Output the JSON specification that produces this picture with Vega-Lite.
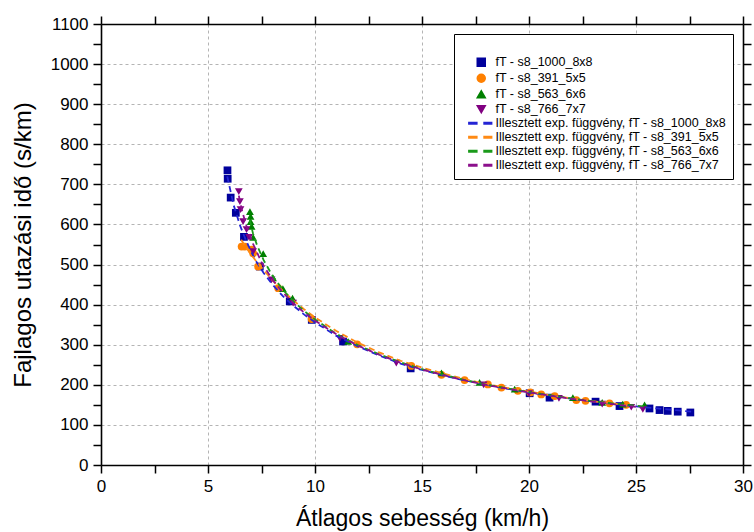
{
  "$schema": "https://vega.github.io/schema/vega-lite/v6.json",
  "autosize": {"type": "none"},
  "padding": {"left": 101, "top": 24, "right": 11, "bottom": 67},
  "width": 642,
  "height": 441,
  "background": "white",
  "config": {
    "view": {"stroke": null},
    "font": "Liberation Sans"
  },
  "datasets": {
    "pts": [
      {"label": "fT - s8_1000_8x8", "x": 5.91, "y": 735},
      {"label": "fT - s8_1000_8x8", "x": 5.92, "y": 714},
      {"label": "fT - s8_1000_8x8", "x": 6.06, "y": 667},
      {"label": "fT - s8_1000_8x8", "x": 6.30, "y": 629},
      {"label": "fT - s8_1000_8x8", "x": 6.68, "y": 569},
      {"label": "fT - s8_1000_8x8", "x": 7.42, "y": 495},
      {"label": "fT - s8_1000_8x8", "x": 8.82, "y": 408},
      {"label": "fT - s8_1000_8x8", "x": 9.85, "y": 362},
      {"label": "fT - s8_1000_8x8", "x": 11.31, "y": 308},
      {"label": "fT - s8_1000_8x8", "x": 14.47, "y": 241},
      {"label": "fT - s8_1000_8x8", "x": 20.03, "y": 179},
      {"label": "fT - s8_1000_8x8", "x": 20.96, "y": 168},
      {"label": "fT - s8_1000_8x8", "x": 23.11, "y": 158},
      {"label": "fT - s8_1000_8x8", "x": 24.23, "y": 147},
      {"label": "fT - s8_1000_8x8", "x": 25.63, "y": 141},
      {"label": "fT - s8_1000_8x8", "x": 26.10, "y": 137},
      {"label": "fT - s8_1000_8x8", "x": 26.48, "y": 135},
      {"label": "fT - s8_1000_8x8", "x": 26.95, "y": 133},
      {"label": "fT - s8_1000_8x8", "x": 27.54, "y": 131},
      {"label": "fT - s8_391_5x5", "x": 6.57, "y": 545},
      {"label": "fT - s8_391_5x5", "x": 6.72, "y": 545},
      {"label": "fT - s8_391_5x5", "x": 7.04, "y": 537},
      {"label": "fT - s8_391_5x5", "x": 7.11, "y": 528},
      {"label": "fT - s8_391_5x5", "x": 7.34, "y": 495},
      {"label": "fT - s8_391_5x5", "x": 8.28, "y": 441},
      {"label": "fT - s8_391_5x5", "x": 9.84, "y": 364},
      {"label": "fT - s8_391_5x5", "x": 11.97, "y": 301},
      {"label": "fT - s8_391_5x5", "x": 14.50, "y": 247},
      {"label": "fT - s8_391_5x5", "x": 15.91, "y": 225},
      {"label": "fT - s8_391_5x5", "x": 16.99, "y": 212},
      {"label": "fT - s8_391_5x5", "x": 18.08, "y": 201},
      {"label": "fT - s8_391_5x5", "x": 18.71, "y": 193},
      {"label": "fT - s8_391_5x5", "x": 19.48, "y": 185},
      {"label": "fT - s8_391_5x5", "x": 20.06, "y": 181},
      {"label": "fT - s8_391_5x5", "x": 20.57, "y": 176},
      {"label": "fT - s8_391_5x5", "x": 21.20, "y": 172},
      {"label": "fT - s8_391_5x5", "x": 22.21, "y": 162},
      {"label": "fT - s8_391_5x5", "x": 22.64, "y": 160},
      {"label": "fT - s8_391_5x5", "x": 23.76, "y": 154},
      {"label": "fT - s8_391_5x5", "x": 24.54, "y": 150},
      {"label": "fT - s8_563_6x6", "x": 6.96, "y": 632},
      {"label": "fT - s8_563_6x6", "x": 6.99, "y": 620},
      {"label": "fT - s8_563_6x6", "x": 6.99, "y": 607},
      {"label": "fT - s8_563_6x6", "x": 7.04, "y": 595},
      {"label": "fT - s8_563_6x6", "x": 7.11, "y": 568},
      {"label": "fT - s8_563_6x6", "x": 7.58, "y": 527},
      {"label": "fT - s8_563_6x6", "x": 8.04, "y": 467},
      {"label": "fT - s8_563_6x6", "x": 8.50, "y": 440},
      {"label": "fT - s8_563_6x6", "x": 8.95, "y": 416},
      {"label": "fT - s8_563_6x6", "x": 11.55, "y": 308},
      {"label": "fT - s8_563_6x6", "x": 15.91, "y": 230},
      {"label": "fT - s8_563_6x6", "x": 17.69, "y": 206},
      {"label": "fT - s8_563_6x6", "x": 19.33, "y": 189},
      {"label": "fT - s8_563_6x6", "x": 22.05, "y": 168},
      {"label": "fT - s8_563_6x6", "x": 23.42, "y": 156},
      {"label": "fT - s8_563_6x6", "x": 24.38, "y": 152},
      {"label": "fT - s8_563_6x6", "x": 25.40, "y": 150},
      {"label": "fT - s8_766_7x7", "x": 6.44, "y": 682},
      {"label": "fT - s8_766_7x7", "x": 6.49, "y": 657},
      {"label": "fT - s8_766_7x7", "x": 6.52, "y": 637},
      {"label": "fT - s8_766_7x7", "x": 6.64, "y": 607},
      {"label": "fT - s8_766_7x7", "x": 6.80, "y": 587},
      {"label": "fT - s8_766_7x7", "x": 6.92, "y": 568},
      {"label": "fT - s8_766_7x7", "x": 7.11, "y": 532},
      {"label": "fT - s8_766_7x7", "x": 7.97, "y": 462},
      {"label": "fT - s8_766_7x7", "x": 8.98, "y": 404},
      {"label": "fT - s8_766_7x7", "x": 11.16, "y": 316},
      {"label": "fT - s8_766_7x7", "x": 13.80, "y": 254},
      {"label": "fT - s8_766_7x7", "x": 17.88, "y": 200},
      {"label": "fT - s8_766_7x7", "x": 20.00, "y": 178},
      {"label": "fT - s8_766_7x7", "x": 21.40, "y": 166},
      {"label": "fT - s8_766_7x7", "x": 23.42, "y": 152},
      {"label": "fT - s8_766_7x7", "x": 24.78, "y": 144},
      {"label": "fT - s8_766_7x7", "x": 25.32, "y": 139}
    ],
    "fits": [
      {"label": "Illesztett exp. függvény, fT - s8_1000_8x8", "x": 5.9, "y": 720},
      {"label": "Illesztett exp. függvény, fT - s8_1000_8x8", "x": 6.2, "y": 648},
      {"label": "Illesztett exp. függvény, fT - s8_1000_8x8", "x": 6.5, "y": 597},
      {"label": "Illesztett exp. függvény, fT - s8_1000_8x8", "x": 6.8, "y": 557},
      {"label": "Illesztett exp. függvény, fT - s8_1000_8x8", "x": 7.2, "y": 512},
      {"label": "Illesztett exp. függvény, fT - s8_1000_8x8", "x": 7.6, "y": 479},
      {"label": "Illesztett exp. függvény, fT - s8_1000_8x8", "x": 8.0, "y": 451},
      {"label": "Illesztett exp. függvény, fT - s8_1000_8x8", "x": 8.5, "y": 421},
      {"label": "Illesztett exp. függvény, fT - s8_1000_8x8", "x": 9.0, "y": 397},
      {"label": "Illesztett exp. függvény, fT - s8_1000_8x8", "x": 9.5, "y": 375},
      {"label": "Illesztett exp. függvény, fT - s8_1000_8x8", "x": 10, "y": 356},
      {"label": "Illesztett exp. függvény, fT - s8_1000_8x8", "x": 11, "y": 322},
      {"label": "Illesztett exp. függvény, fT - s8_1000_8x8", "x": 12, "y": 296},
      {"label": "Illesztett exp. függvény, fT - s8_1000_8x8", "x": 13, "y": 273},
      {"label": "Illesztett exp. függvény, fT - s8_1000_8x8", "x": 14, "y": 253},
      {"label": "Illesztett exp. függvény, fT - s8_1000_8x8", "x": 15, "y": 237},
      {"label": "Illesztett exp. függvény, fT - s8_1000_8x8", "x": 16, "y": 223},
      {"label": "Illesztett exp. függvény, fT - s8_1000_8x8", "x": 17, "y": 211},
      {"label": "Illesztett exp. függvény, fT - s8_1000_8x8", "x": 18, "y": 200},
      {"label": "Illesztett exp. függvény, fT - s8_1000_8x8", "x": 19, "y": 190},
      {"label": "Illesztett exp. függvény, fT - s8_1000_8x8", "x": 20, "y": 181},
      {"label": "Illesztett exp. függvény, fT - s8_1000_8x8", "x": 21, "y": 173},
      {"label": "Illesztett exp. függvény, fT - s8_1000_8x8", "x": 22, "y": 165},
      {"label": "Illesztett exp. függvény, fT - s8_1000_8x8", "x": 23, "y": 158},
      {"label": "Illesztett exp. függvény, fT - s8_1000_8x8", "x": 24, "y": 152},
      {"label": "Illesztett exp. függvény, fT - s8_1000_8x8", "x": 25, "y": 146},
      {"label": "Illesztett exp. függvény, fT - s8_1000_8x8", "x": 26, "y": 141},
      {"label": "Illesztett exp. függvény, fT - s8_1000_8x8", "x": 27, "y": 136},
      {"label": "Illesztett exp. függvény, fT - s8_1000_8x8", "x": 27.6, "y": 133},
      {"label": "Illesztett exp. függvény, fT - s8_391_5x5", "x": 6.55, "y": 562},
      {"label": "Illesztett exp. függvény, fT - s8_391_5x5", "x": 6.8, "y": 541},
      {"label": "Illesztett exp. függvény, fT - s8_391_5x5", "x": 7.2, "y": 512},
      {"label": "Illesztett exp. függvény, fT - s8_391_5x5", "x": 7.6, "y": 486},
      {"label": "Illesztett exp. függvény, fT - s8_391_5x5", "x": 8.0, "y": 462},
      {"label": "Illesztett exp. függvény, fT - s8_391_5x5", "x": 8.5, "y": 434},
      {"label": "Illesztett exp. függvény, fT - s8_391_5x5", "x": 9.0, "y": 410},
      {"label": "Illesztett exp. függvény, fT - s8_391_5x5", "x": 9.5, "y": 388},
      {"label": "Illesztett exp. függvény, fT - s8_391_5x5", "x": 10, "y": 368},
      {"label": "Illesztett exp. függvény, fT - s8_391_5x5", "x": 11, "y": 334},
      {"label": "Illesztett exp. függvény, fT - s8_391_5x5", "x": 12, "y": 305},
      {"label": "Illesztett exp. függvény, fT - s8_391_5x5", "x": 13, "y": 281},
      {"label": "Illesztett exp. függvény, fT - s8_391_5x5", "x": 14, "y": 260},
      {"label": "Illesztett exp. függvény, fT - s8_391_5x5", "x": 15, "y": 243},
      {"label": "Illesztett exp. függvény, fT - s8_391_5x5", "x": 16, "y": 228},
      {"label": "Illesztett exp. függvény, fT - s8_391_5x5", "x": 17, "y": 214},
      {"label": "Illesztett exp. függvény, fT - s8_391_5x5", "x": 18, "y": 202},
      {"label": "Illesztett exp. függvény, fT - s8_391_5x5", "x": 19, "y": 192},
      {"label": "Illesztett exp. függvény, fT - s8_391_5x5", "x": 20, "y": 183},
      {"label": "Illesztett exp. függvény, fT - s8_391_5x5", "x": 21, "y": 174},
      {"label": "Illesztett exp. függvény, fT - s8_391_5x5", "x": 22, "y": 166},
      {"label": "Illesztett exp. függvény, fT - s8_391_5x5", "x": 23, "y": 159},
      {"label": "Illesztett exp. függvény, fT - s8_391_5x5", "x": 24, "y": 153},
      {"label": "Illesztett exp. függvény, fT - s8_391_5x5", "x": 24.6, "y": 149},
      {"label": "Illesztett exp. függvény, fT - s8_563_6x6", "x": 6.95, "y": 612},
      {"label": "Illesztett exp. függvény, fT - s8_563_6x6", "x": 7.1, "y": 578},
      {"label": "Illesztett exp. függvény, fT - s8_563_6x6", "x": 7.3, "y": 547},
      {"label": "Illesztett exp. függvény, fT - s8_563_6x6", "x": 7.6, "y": 511},
      {"label": "Illesztett exp. függvény, fT - s8_563_6x6", "x": 8.0, "y": 473},
      {"label": "Illesztett exp. függvény, fT - s8_563_6x6", "x": 8.5, "y": 437},
      {"label": "Illesztett exp. függvény, fT - s8_563_6x6", "x": 9.0, "y": 408},
      {"label": "Illesztett exp. függvény, fT - s8_563_6x6", "x": 9.5, "y": 384},
      {"label": "Illesztett exp. függvény, fT - s8_563_6x6", "x": 10, "y": 363},
      {"label": "Illesztett exp. függvény, fT - s8_563_6x6", "x": 11, "y": 327},
      {"label": "Illesztett exp. függvény, fT - s8_563_6x6", "x": 12, "y": 299},
      {"label": "Illesztett exp. függvény, fT - s8_563_6x6", "x": 13, "y": 276},
      {"label": "Illesztett exp. függvény, fT - s8_563_6x6", "x": 14, "y": 256},
      {"label": "Illesztett exp. függvény, fT - s8_563_6x6", "x": 15, "y": 239},
      {"label": "Illesztett exp. függvény, fT - s8_563_6x6", "x": 16, "y": 225},
      {"label": "Illesztett exp. függvény, fT - s8_563_6x6", "x": 17, "y": 212},
      {"label": "Illesztett exp. függvény, fT - s8_563_6x6", "x": 18, "y": 201},
      {"label": "Illesztett exp. függvény, fT - s8_563_6x6", "x": 19, "y": 191},
      {"label": "Illesztett exp. függvény, fT - s8_563_6x6", "x": 20, "y": 182},
      {"label": "Illesztett exp. függvény, fT - s8_563_6x6", "x": 21, "y": 174},
      {"label": "Illesztett exp. függvény, fT - s8_563_6x6", "x": 22, "y": 166},
      {"label": "Illesztett exp. függvény, fT - s8_563_6x6", "x": 23, "y": 159},
      {"label": "Illesztett exp. függvény, fT - s8_563_6x6", "x": 24, "y": 153},
      {"label": "Illesztett exp. függvény, fT - s8_563_6x6", "x": 25, "y": 148},
      {"label": "Illesztett exp. függvény, fT - s8_563_6x6", "x": 25.4, "y": 146},
      {"label": "Illesztett exp. függvény, fT - s8_766_7x7", "x": 6.44, "y": 672},
      {"label": "Illesztett exp. függvény, fT - s8_766_7x7", "x": 6.6, "y": 632},
      {"label": "Illesztett exp. függvény, fT - s8_766_7x7", "x": 6.8, "y": 596},
      {"label": "Illesztett exp. függvény, fT - s8_766_7x7", "x": 7.1, "y": 552},
      {"label": "Illesztett exp. függvény, fT - s8_766_7x7", "x": 7.5, "y": 506},
      {"label": "Illesztett exp. függvény, fT - s8_766_7x7", "x": 8.0, "y": 463},
      {"label": "Illesztett exp. függvény, fT - s8_766_7x7", "x": 8.5, "y": 430},
      {"label": "Illesztett exp. függvény, fT - s8_766_7x7", "x": 9.0, "y": 403},
      {"label": "Illesztett exp. függvény, fT - s8_766_7x7", "x": 9.5, "y": 380},
      {"label": "Illesztett exp. függvény, fT - s8_766_7x7", "x": 10, "y": 360},
      {"label": "Illesztett exp. függvény, fT - s8_766_7x7", "x": 11, "y": 326},
      {"label": "Illesztett exp. függvény, fT - s8_766_7x7", "x": 12, "y": 298},
      {"label": "Illesztett exp. függvény, fT - s8_766_7x7", "x": 13, "y": 275},
      {"label": "Illesztett exp. függvény, fT - s8_766_7x7", "x": 14, "y": 255},
      {"label": "Illesztett exp. függvény, fT - s8_766_7x7", "x": 15, "y": 238},
      {"label": "Illesztett exp. függvény, fT - s8_766_7x7", "x": 16, "y": 224},
      {"label": "Illesztett exp. függvény, fT - s8_766_7x7", "x": 17, "y": 211},
      {"label": "Illesztett exp. függvény, fT - s8_766_7x7", "x": 18, "y": 200},
      {"label": "Illesztett exp. függvény, fT - s8_766_7x7", "x": 19, "y": 190},
      {"label": "Illesztett exp. függvény, fT - s8_766_7x7", "x": 20, "y": 181},
      {"label": "Illesztett exp. függvény, fT - s8_766_7x7", "x": 21, "y": 173},
      {"label": "Illesztett exp. függvény, fT - s8_766_7x7", "x": 22, "y": 165},
      {"label": "Illesztett exp. függvény, fT - s8_766_7x7", "x": 23, "y": 158},
      {"label": "Illesztett exp. függvény, fT - s8_766_7x7", "x": 24, "y": 151},
      {"label": "Illesztett exp. függvény, fT - s8_766_7x7", "x": 25, "y": 145},
      {"label": "Illesztett exp. függvény, fT - s8_766_7x7", "x": 25.3, "y": 143}
    ]
  },
  "layer": [
    {
      "data": {"name": "pts"},
      "mark": {"type": "point", "filled": true, "opacity": 1, "size": 60, "strokeWidth": 0},
      "encoding": {
        "x": {
          "field": "x", "type": "quantitative",
          "scale": {"domain": [0, 30], "nice": false, "zero": false},
          "axis": {
            "orient": "bottom",
            "values": [0, 2.5, 5, 7.5, 10, 12.5, 15, 17.5, 20, 22.5, 25, 27.5, 30],
            "format": "d",
            "labelExpr": "datum.value % 5 === 0 ? datum.label : ''",
            "labelFlush": false,
            "labelFont": "Liberation Sans", "labelFontSize": 17, "labelColor": "black", "labelPadding": 5,
            "tickSize": 8,
            "tickColor": "black", "tickWidth": 1.5,
            "domainColor": "black", "domainWidth": 1.6,
            "grid": true, "gridDash": [3, 3], "gridColor": "#b4b4b4", "gridWidth": 1,
            "gridOpacity": {"condition": {"test": "datum.value % 5 === 0 && datum.value > 0 && datum.value < 30", "value": 1}, "value": 0},
            "title": "Átlagos sebesség (km/h)",
            "titleFont": "Liberation Sans", "titleFontSize": 23, "titleFontWeight": "normal", "titleColor": "black", "titlePadding": 13,
            "encode": {"ticks": {"update": {"y2": {"signal": "datum.value % 5 === 0 ? 8 : 5"}}}}
          }
        },
        "y": {
          "field": "y", "type": "quantitative",
          "scale": {"domain": [0, 1100], "nice": false, "zero": false},
          "axis": {
            "orient": "left",
            "values": [0, 50, 100, 150, 200, 250, 300, 350, 400, 450, 500, 550, 600, 650, 700, 750, 800, 850, 900, 950, 1000, 1050, 1100],
            "format": "d",
            "labelExpr": "datum.value % 100 === 0 ? datum.label : ''",
            "labelFlush": false,
            "labelFont": "Liberation Sans", "labelFontSize": 17, "labelColor": "black", "labelPadding": 5,
            "tickSize": 8,
            "tickColor": "black", "tickWidth": 1.5,
            "domainColor": "black", "domainWidth": 1.6,
            "grid": true, "gridDash": [3, 3], "gridColor": "#b4b4b4", "gridWidth": 1,
            "gridOpacity": {"condition": {"test": "datum.value % 100 === 0 && datum.value > 0 && datum.value < 1100", "value": 1}, "value": 0},
            "title": "Fajlagos utazási idő (s/km)",
            "titleFont": "Liberation Sans", "titleFontSize": 24, "titleFontWeight": "normal", "titleColor": "black", "titlePadding": 15,
            "encode": {"ticks": {"update": {"x2": {"signal": "datum.value % 100 === 0 ? -8 : -5"}}}}
          }
        },
        "color": {
          "field": "label", "type": "nominal",
          "scale": {
            "domain": [
              "fT - s8_1000_8x8", "fT - s8_391_5x5", "fT - s8_563_6x6", "fT - s8_766_7x7",
              "Illesztett exp. függvény, fT - s8_1000_8x8", "Illesztett exp. függvény, fT - s8_391_5x5",
              "Illesztett exp. függvény, fT - s8_563_6x6", "Illesztett exp. függvény, fT - s8_766_7x7"
            ],
            "range": ["#00009c", "#ff8000", "#008000", "#800080", "#2424d4", "#ff8a14", "#1a9a1a", "#8c108c"]
          },
          "legend": {
            "orient": "top-right",
            "offset": 10,
            "title": "\u00a0",
            "titleFontSize": 10,
            "titlePadding": 5,
            "padding": 7,
            "fillColor": "white",
            "strokeColor": "black",
            "symbolSize": 64,
            "symbolOffset": 14,
            "labelOffset": 8,
            "labelFont": "Liberation Sans",
            "labelFontSize": 12.5,
            "labelColor": "black",
            "labelLimit": 400,
            "rowPadding": 1.0,
            "symbolOpacity": 1
          }
        },
        "shape": {
          "field": "label", "type": "nominal",
          "scale": {
            "domain": [
              "fT - s8_1000_8x8", "fT - s8_391_5x5", "fT - s8_563_6x6", "fT - s8_766_7x7",
              "Illesztett exp. függvény, fT - s8_1000_8x8", "Illesztett exp. függvény, fT - s8_391_5x5",
              "Illesztett exp. függvény, fT - s8_563_6x6", "Illesztett exp. függvény, fT - s8_766_7x7"
            ],
            "range": ["square", "circle", "triangle-up", "triangle-down",
              "M-3.1,-0.2H-1.1V0.2H-3.1ZM0.7,-0.2H2.6V0.2H0.7Z", "M-3.1,-0.2H-1.1V0.2H-3.1ZM0.7,-0.2H2.6V0.2H0.7Z",
              "M-3.1,-0.2H-1.1V0.2H-3.1ZM0.7,-0.2H2.6V0.2H0.7Z", "M-3.1,-0.2H-1.1V0.2H-3.1ZM0.7,-0.2H2.6V0.2H0.7Z"]
          }
        }
      }
    },
    {
      "data": {"name": "fits"},
      "mark": {"type": "line", "strokeDash": [6, 4], "strokeWidth": 1.8},
      "encoding": {
        "x": {
          "field": "x", "type": "quantitative",
          "axis": {
            "orient": "top",
            "values": [0, 2.5, 5, 7.5, 10, 12.5, 15, 17.5, 20, 22.5, 25, 27.5, 30],
            "labels": false, "grid": false, "title": null,
            "tickSize": 8,
            "tickColor": "black", "tickWidth": 1.5,
            "domainColor": "black", "domainWidth": 1.6,
            "encode": {"ticks": {"update": {"y2": {"signal": "datum.value % 5 === 0 ? 8 : 5"}}}}
          }
        },
        "y": {
          "field": "y", "type": "quantitative",
          "axis": {
            "orient": "right",
            "values": [0, 50, 100, 150, 200, 250, 300, 350, 400, 450, 500, 550, 600, 650, 700, 750, 800, 850, 900, 950, 1000, 1050, 1100],
            "labels": false, "grid": false, "title": null,
            "tickSize": 8,
            "tickColor": "black", "tickWidth": 1.5,
            "domainColor": "black", "domainWidth": 1.6,
            "encode": {"ticks": {"update": {"x2": {"signal": "datum.value % 100 === 0 ? -8 : -5"}}}}
          }
        },
        "color": {"field": "label", "type": "nominal"}
      }
    }
  ],
  "resolve": {"axis": {"x": "independent", "y": "independent"}}
}
